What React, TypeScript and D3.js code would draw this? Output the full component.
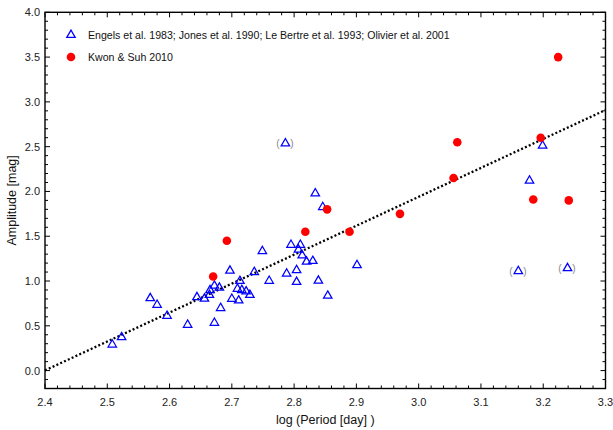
import React from "react";
import * as d3 from "d3";

// Amplitude vs log(Period) for OH/IR-type stars
const literaturePeriod = [
  2.508, 2.523, 2.569, 2.58, 2.596, 2.629, 2.644, 2.656, 2.664, 2.665, 2.672,
  2.68, 2.682, 2.672, 2.697, 2.7, 2.709, 2.711, 2.713, 2.716, 2.723, 2.729,
  2.736, 2.749, 2.76, 2.788, 2.804, 2.804, 2.795, 2.81, 2.807, 2.813, 2.82,
  2.83, 2.839, 2.854, 2.834, 2.846, 2.901, 2.786, 3.199, 3.178, 3.16, 3.239,
];
const literatureAmplitude = [
  0.29, 0.372, 0.808, 0.734, 0.611, 0.511, 0.819, 0.802, 0.844, 0.897, 0.947,
  0.925, 0.698, 0.533, 1.115, 0.801, 0.913, 0.782, 1.0, 0.899, 0.883, 0.844,
  1.1, 1.333, 1.002, 1.082, 1.121, 0.989, 1.404, 1.404, 1.349, 1.285, 1.215,
  1.223, 1.003, 0.835, 1.978, 1.825, 1.177, 2.536, 2.511, 2.12, 1.11, 1.143,
];
// uncertain values are shown in parentheses
const literatureUncertain = [
  false, false, false, false, false, false, false, false, false, false, false,
  false, false, false, false, false, false, false, false, false, false, false,
  false, false, false, false, false, false, false, false, false, false, false,
  false, false, false, false, false, false, true, false, false, true, true,
];

const kwonPeriod = [
  2.67, 2.692, 2.818, 2.853, 2.889, 2.97, 3.056, 3.062, 3.184, 3.196, 3.224, 3.241,
];
const kwonAmplitude = [
  1.05, 1.45, 1.55, 1.8, 1.55, 1.75, 2.15, 2.55, 1.91, 2.6, 3.5, 1.9,
];

// linear fit: A = slope * logP + intercept
const fitSlope = 3.23;
const fitIntercept = -7.75;

const xTicks = [2.4, 2.5, 2.6, 2.7, 2.8, 2.9, 3.0, 3.1, 3.2, 3.3];
const yTicks = [0.0, 0.5, 1.0, 1.5, 2.0, 2.5, 3.0, 3.5, 4.0];

const legendLabels = [
  "Engels et al. 1983; Jones et al. 1990; Le Bertre et al. 1993; Olivier et al. 2001",
  "Kwon & Suh 2010",
];

const W = 613;
const H = 430;
const left = 45;
const right = 605.5;
const top = 12.3;
const bottom = 388.5;

export default function App() {
  const x = d3.scaleLinear().domain([2.4, 3.3]).range([left, right]);
  const y = d3.scaleLinear().domain([-0.2, 4.0]).range([bottom, top]);

  const xMinor = d3.range(2.4, 3.3001, 0.02).map((v) => +v.toFixed(2));
  const yMinor = d3.range(-0.2, 4.0001, 0.1).map((v) => +v.toFixed(1));

  const tri = d3.symbol(d3.symbolTriangle, 31)() as string;
  const font = "'Liberation Sans', Arial, sans-serif";

  const fitLine = d3
    .line<number>()
    .x((d) => x(d))
    .y((d) => y(fitSlope * d + fitIntercept));

  const blue = "#0000ff";
  const red = "#ff0000";

  return (
    <svg
      width={W}
      height={H}
      style={{ position: "absolute", left: 0, top: 0, background: "#fff" }}
      fontFamily={font}
    >
      <rect x={0} y={0} width={W} height={H} fill="#fff" />

      {/* fit line */}
      <path
        d={fitLine([2.4, 3.3]) as string}
        fill="none"
        stroke="#000"
        strokeWidth={2.3}
        strokeDasharray="2 2.2"
      />

      {/* literature triangles */}
      {literaturePeriod.map((p, i) => (
        <g key={"l" + i} transform={`translate(${x(p)},${y(literatureAmplitude[i])})`}>
          <path d={tri} fill="none" stroke={blue} strokeWidth={1.25} />
          {literatureUncertain[i] && (
            <>
              <text x={-7.5} y={3.5} fontSize={10} fill="#888" textAnchor="middle">(</text>
              <text x={6.5} y={3.5} fontSize={10} fill="#888" textAnchor="middle">)</text>
            </>
          )}
        </g>
      ))}

      {/* Kwon & Suh circles */}
      {kwonPeriod.map((p, i) => (
        <circle key={"k" + i} cx={x(p)} cy={y(kwonAmplitude[i])} r={4.3} fill={red} />
      ))}

      {/* frame */}
      <rect
        x={left}
        y={top}
        width={right - left}
        height={bottom - top}
        fill="none"
        stroke="#000"
        strokeWidth={1.4}
      />

      {/* x ticks (bottom & top, inward) */}
      {xMinor.map((v) => {
        const major = xTicks.some((t) => Math.abs(t - v) < 1e-6);
        const len = major ? 5 : 3;
        return (
          <g key={"xt" + v}>
            <line x1={x(v)} x2={x(v)} y1={bottom} y2={bottom - len} stroke="#000" strokeWidth={1} />
            <line x1={x(v)} x2={x(v)} y1={top} y2={top + len} stroke="#000" strokeWidth={1} />
          </g>
        );
      })}
      {/* y ticks (left & right, inward) */}
      {yMinor.map((v) => {
        const major = yTicks.some((t) => Math.abs(t - v) < 1e-6);
        const len = major ? 5 : 3;
        return (
          <g key={"yt" + v}>
            <line x1={left} x2={left + len} y1={y(v)} y2={y(v)} stroke="#000" strokeWidth={1} />
            <line x1={right} x2={right - len} y1={y(v)} y2={y(v)} stroke="#000" strokeWidth={1} />
          </g>
        );
      })}

      {/* tick labels */}
      {xTicks.map((v) => (
        <text key={"xl" + v} x={x(v)} y={406} fontSize={11} fill="#222" textAnchor="middle">
          {v.toFixed(1)}
        </text>
      ))}
      {yTicks.map((v) => (
        <text key={"yl" + v} x={40} y={y(v) + 4} fontSize={11} fill="#222" textAnchor="end">
          {v.toFixed(1)}
        </text>
      ))}

      {/* axis titles */}
      <text x={(left + right) / 2} y={424} fontSize={12.5} fill="#111" textAnchor="middle">
        log (Period [day] )
      </text>
      <text
        transform={`translate(16,${(top + bottom) / 2}) rotate(-90)`}
        fontSize={12.5}
        fill="#111"
        textAnchor="middle"
      >
        Amplitude [mag]
      </text>

      {/* legend */}
      <g transform="translate(71,35)">
        <path d={tri} fill="none" stroke={blue} strokeWidth={1.25} />
      </g>
      <text x={88} y={39} fontSize={10.6} fill="#111">{legendLabels[0]}</text>
      <circle cx={71} cy={57} r={4.3} fill={red} />
      <text x={88} y={61} fontSize={10.6} fill="#111">{legendLabels[1]}</text>
    </svg>
  );
}
